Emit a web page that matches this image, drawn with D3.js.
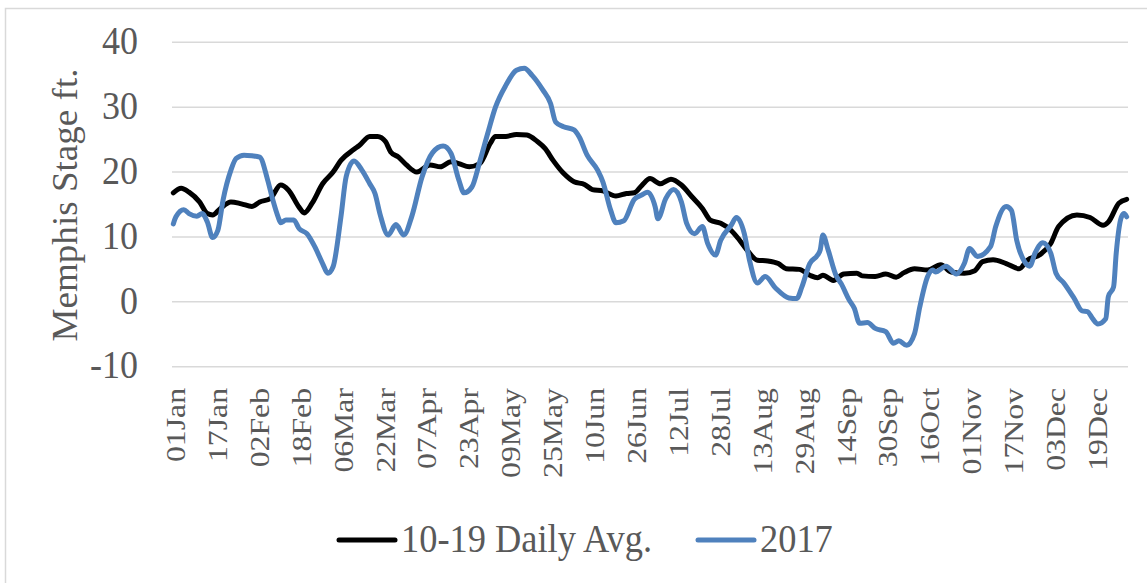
<!DOCTYPE html>
<html>
<head>
<meta charset="utf-8">
<script src="https://cdn.jsdelivr.net/npm/d3@7"></script>
<style>
  body { margin: 0; background: #fff; }
  text { font-family: "Liberation Serif", "Times New Roman", serif; fill: #595959; }
</style>
</head>
<body>
<div id="chart"></div>
<script>
// day of year (0 = 01Jan) and stage in ft
var avgDays = [0,3,6,10,13,15,18,22,26,30,33,37,41,44,48,50,53,57,61,64,69,71,75,78,81,83,86,89,93,98,102,106,109,113,117,121,123,127,131,135,139,142,145,149,153,157,160,164,169,173,176,179,182,186,190,194,198,202,205,209,213,216,219,223,227,231,234,239,243,246,248,252,256,261,263,268,272,276,279,283,288,293,297,302,306,309,313,318,323,326,331,335,338,345,350,355,357,361,364];
var avgValues = [16.8,17.5,16.9,15.4,13.6,13.4,14.4,15.4,15.1,14.7,15.4,15.9,18.0,17.2,14.6,13.7,15.2,18.2,20.0,21.8,23.5,24.1,25.5,25.5,24.7,23.1,22.3,21.1,20.0,21.1,20.8,21.6,21.3,20.8,21.3,24.4,25.5,25.5,25.8,25.7,24.7,23.6,21.8,19.8,18.5,18.1,17.3,17.1,16.3,16.7,16.8,18.0,19.0,18.2,18.9,18.0,16.2,14.4,12.6,12.1,11.0,9.6,8.0,6.4,6.3,5.9,5.1,5.0,4.1,3.7,4.1,3.3,4.3,4.4,4.0,3.9,4.3,3.8,4.5,5.1,4.9,5.7,4.6,4.4,4.8,6.2,6.5,5.9,5.1,6.4,7.3,9.0,11.6,13.4,13.0,11.8,12.3,15.2,15.8];

var obsDays = [0,1,4,6,9,11,13,15,17,19,22,24,27,30,33,36,38,40,41,43,46,48,51,54,57,59,61,64,66,69,72,75,77,79,82,85,88,91,95,99,103,106,109,111,114,117,120,123,127,131,134,137,141,144,146,149,153,155,158,162,164,167,169,172,176,179,181,184,185,188,191,194,196,199,202,204,207,209,213,215,218,220,223,226,230,235,238,240,243,246,247,248,250,253,255,258,260,262,265,268,272,275,277,280,283,285,288,290,291,295,299,302,304,307,312,314,318,320,322,325,327,329,332,335,337,340,344,347,349,351,353,356,357,359,360,362,363,364];
var obsValues = [12.0,13.1,14.2,13.6,13.2,13.6,12.3,9.9,11.0,15.7,20.3,22.1,22.6,22.5,22.3,18.8,15.7,13.1,12.2,12.6,12.6,11.3,10.5,8.5,5.9,4.4,5.4,13.1,19.3,21.7,20.3,18.2,16.7,13.4,10.3,11.9,10.3,13.1,19.3,23.0,24.0,22.9,18.8,16.8,17.7,21.6,25.9,30.0,33.4,35.7,36.0,34.9,32.7,30.6,27.7,27.0,26.5,25.4,22.6,20.3,18.5,14.1,12.2,12.5,15.8,16.5,16.9,14.6,12.8,15.9,17.3,15.4,12.1,10.5,11.6,9.0,7.2,9.5,11.8,13.0,10.5,6.4,2.9,3.9,2.1,0.6,0.5,2.3,5.9,7.2,8.0,10.3,8.0,4.1,2.8,0.3,-1.0,-3.3,-3.2,-4.1,-4.6,-6.4,-6.0,-6.7,-4.9,-0.8,3.9,4.9,4.6,5.5,4.3,5.9,8.2,7.0,8.5,11.6,14.7,14.1,9.5,6.2,5.5,7.5,9.1,7.5,4.4,2.9,0.5,-1.4,-1.5,-2.6,-3.4,-2.6,0.8,2.3,7.5,13.1,13.6,13.1];

var tickDays = [0,16,32,48,64,80,96,112,128,144,160,176,192,208,224,240,256,272,288,304,320,336,352];
var tickLabels = ["01Jan","17Jan","02Feb","18Feb","06Mar","22Mar","07Apr","23Apr","09May","25May","10Jun","26Jun","12Jul","28Jul","13Aug","29Aug","14Sep","30Sep","16Oct","01Nov","17Nov","03Dec","19Dec"];
var yTicks = [-10, 0, 10, 20, 30, 40];
var seriesNames = ["10-19 Daily Avg.", "2017"];
var seriesColors = ["#000000", "#4f81bd"];

var W = 1147, H = 583;
var plot = {left: 172, right: 1128, top: 42.3, bottom: 366.7};

var svg = d3.select("#chart").append("svg")
  .attr("width", W)
  .attr("height", H);

// outer chart border
svg.append("rect")
  .attr("x", 5.5).attr("y", 8.5)
  .attr("width", W).attr("height", H)
  .attr("fill", "none")
  .attr("stroke", "#d9d9d9")
  .attr("stroke-width", 1.5);

var x = d3.scaleLinear().domain([-0.5, 364.5]).range([plot.left, plot.right]);
var y = d3.scaleLinear().domain([-10, 40]).range([plot.bottom, plot.top]);

// gridlines
svg.append("g").selectAll("line")
  .data(yTicks)
  .enter().append("line")
  .attr("x1", plot.left).attr("x2", plot.right)
  .attr("y1", function(d) { return y(d); })
  .attr("y2", function(d) { return y(d); })
  .attr("stroke", "#d9d9d9")
  .attr("stroke-width", 1.5);

// y tick labels (text in the picture is a bit taller than wide)
svg.append("g").selectAll("text")
  .data(yTicks)
  .enter().append("text")
  .attr("transform", function(d) { return "translate(138," + (y(d) + 11.7) + ") scale(1,1.1)"; })
  .attr("text-anchor", "end")
  .attr("font-size", 36)
  .text(function(d) { return d; });

// x tick labels, rotated
svg.append("g").selectAll("text")
  .data(tickDays)
  .enter().append("text")
  .attr("transform", function(d) { return "translate(" + (x(d) + 11.7) + ",388) scale(1,1.15) rotate(-90)"; })
  .attr("text-anchor", "end")
  .attr("font-size", 27.6)
  .text(function(d, i) { return tickLabels[i]; });

// y axis title
svg.append("text")
  .attr("transform", "translate(77,205) scale(1,1.06) rotate(-90)")
  .attr("text-anchor", "middle")
  .attr("font-size", 35)
  .text("Memphis Stage ft.");

// lines
var line = d3.line()
  .x(function(d) { return x(d[0]); })
  .y(function(d) { return y(d[1]); })
  .curve(d3.curveMonotoneX);

var avgData = avgDays.map(function(d, i) { return [d, avgValues[i]]; });
var obsData = obsDays.map(function(d, i) { return [d, obsValues[i]]; });

[avgData, obsData].forEach(function(data, i) {
  svg.append("path")
    .datum(data)
    .attr("d", line)
    .attr("fill", "none")
    .attr("stroke", seriesColors[i])
    .attr("stroke-width", 5)
    .attr("stroke-linejoin", "round")
    .attr("stroke-linecap", "round");
});

// legend
var legendX = [339, 698];
var legend = svg.append("g").selectAll("g")
  .data(seriesNames)
  .enter().append("g")
  .attr("transform", function(d, i) { return "translate(" + legendX[i] + ",0)"; });

legend.append("line")
  .attr("x1", 0).attr("x2", 56)
  .attr("y1", 540).attr("y2", 540)
  .attr("stroke", function(d, i) { return seriesColors[i]; })
  .attr("stroke-width", 5)
  .attr("stroke-linecap", "round");

legend.append("text")
  .attr("transform", "translate(62,552) scale(1,1.1)")
  .attr("font-size", 36.4)
  .text(function(d) { return d; });
</script>
</body>
</html>
